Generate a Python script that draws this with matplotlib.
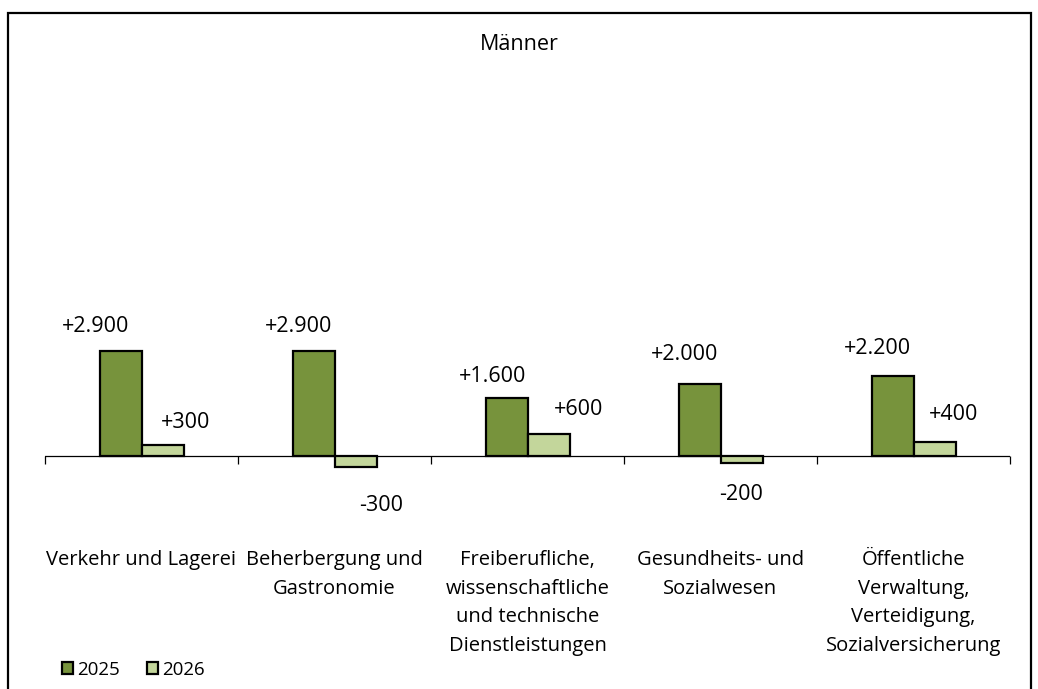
import numpy as np
import matplotlib.pyplot as plt
from matplotlib.patches import Rectangle

plt.rcParams['font.family'] = ['Open Sans', 'DejaVu Sans']

# data
categories = ['Verkehr und Lagerei',
              'Beherbergung und\nGastronomie',
              'Freiberufliche,\nwissenschaftliche\nund technische\nDienstleistungen',
              'Gesundheits- und\nSozialwesen',
              'Öffentliche\nVerwaltung,\nVerteidigung,\nSozialversicherung']
years = ['2025', '2026']
vals_2025 = [2900, 2900, 1600, 2000, 2200]
vals_2026 = [300, -300, 600, -200, 400]
labels_2025 = ['+2.900', '+2.900', '+1.600', '+2.000', '+2.200']
labels_2026 = ['+300', '-300', '+600', '-200', '+400']

# label offsets from bar end (pixels) - labels were moved by hand in the original
off_2025 = [(-25, 25), (-15, 25), (-14, 22), (-15, 29), (-15, 28)]
off_2026 = [(23, 23), (26, -39), (30, 25), (0, -31), (19, 27)]

c_dark = '#77933C'
c_light = '#C3D69B'

W, H = 1038, 689
fig = plt.figure(figsize=(W / 100, H / 100), dpi=100)

# outer frame (bottom edge runs off the picture)
fig.patches.append(Rectangle((8 / W, -0.05), 1023 / W, 1.05 - 13 / H,
                             transform=fig.transFigure, fill=False,
                             edgecolor='black', linewidth=1.6))

ax = fig.add_axes([45 / W, (H - 546.5) / H, 965 / W, 452.5 / H])
ax.set_xlim(-0.5, 4.5)
ax.set_ylim(-2500, 10000)
for s in ax.spines.values():
    s.set_visible(False)
ax.set_yticks([])
ax.axhline(0, color='black', linewidth=0.9, zorder=1)
ax.set_xticks(np.arange(-0.5, 5.0, 1.0))
ax.set_xticklabels([])
ax.tick_params(axis='x', direction='out', length=6, width=0.9, color='black')
ax.spines['bottom'].set_position(('data', 0))

x = np.arange(len(categories))
bw = 42 / 193
b1 = ax.bar(x - bw / 2, vals_2025, bw, color=c_dark, edgecolor='black', linewidth=1.6, label=years[0], zorder=2)
b2 = ax.bar(x + bw / 2, vals_2026, bw, color=c_light, edgecolor='black', linewidth=1.6, label=years[1], zorder=2)

px = 0.72  # pixel -> points
fs = 14.5
for i in range(len(x)):
    dx, dy = off_2025[i]
    ax.annotate(labels_2025[i], (x[i] - bw / 2, vals_2025[i]), xytext=(dx * px, dy * px),
                textcoords='offset points', ha='center', va='center', fontsize=15.5)
    dx, dy = off_2026[i]
    ax.annotate(labels_2026[i], (x[i] + bw / 2, vals_2026[i]), xytext=(dx * px, dy * px),
                textcoords='offset points', ha='center', va='center', fontsize=15.5)
    ax.annotate(categories[i], (x[i], 0), xytext=(0, -94 * px), textcoords='offset points',
                ha='center', va='top', fontsize=fs, linespacing=1.58)

fig.text(519 / W, (H - 45) / H, 'Männer', ha='center', va='center', fontsize=15.5)

fig.legend(handles=[b1, b2], labels=years, loc='center left', ncol=2,
           bbox_to_anchor=(45 / W, (H - 670) / H), frameon=False, fontsize=13.5,
           handlelength=0.6, handleheight=0.6, handletextpad=0.2, columnspacing=1.45)

fig.savefig('out.png', dpi=100)
